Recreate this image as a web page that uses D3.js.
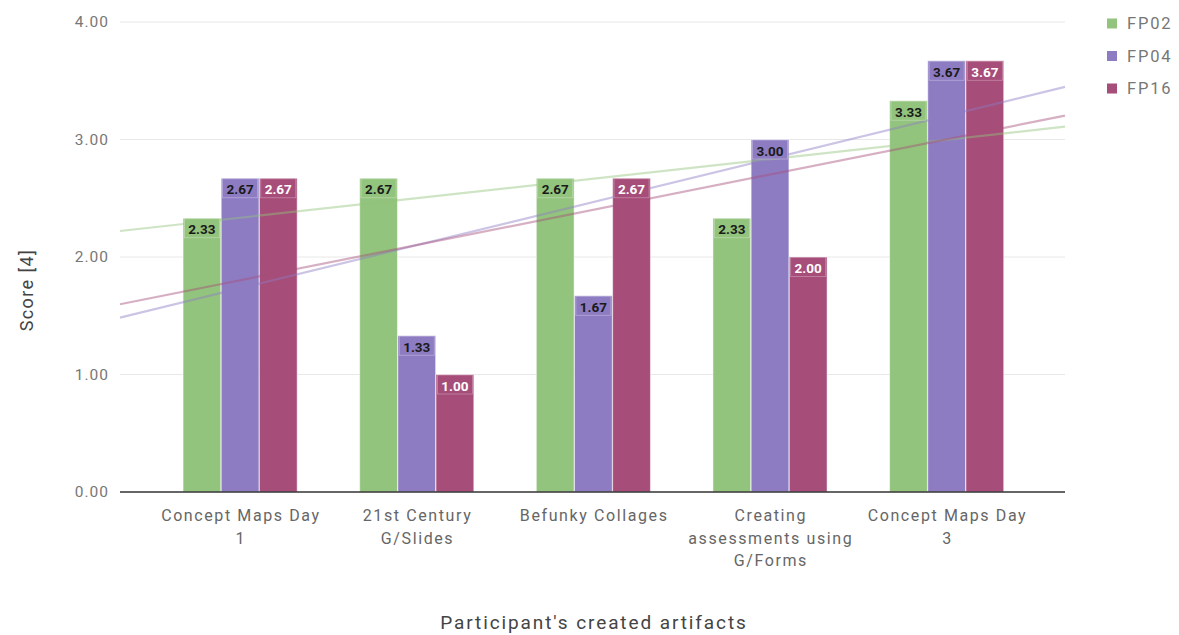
<!DOCTYPE html>
<html>
<head>
<meta charset="utf-8">
<script src="https://cdn.jsdelivr.net/npm/d3@7"></script>
<style>
  html, body { margin: 0; padding: 0; background: #fff; }
  svg { display: block; font-family: Roboto, "Noto Sans", Arial, sans-serif; }
</style>
</head>
<body>
<svg id="chart" width="1179" height="635"></svg>
<script>
// Artifact categories (wrapped lines of each label)
const categories = [
  ["Concept Maps Day", "1"],
  ["21st Century", "G/Slides"],
  ["Befunky Collages"],
  ["Creating", "assessments using", "G/Forms"],
  ["Concept Maps Day", "3"]
];
const seriesNames = ["FP02", "FP04", "FP16"];
const fp02 = [2.33, 2.67, 2.67, 2.33, 3.33];
const fp04 = [2.67, 1.33, 1.67, 3.00, 3.67];
const fp16 = [2.67, 1.00, 2.67, 2.00, 3.67];
const yTicks = [0, 1, 2, 3, 4];

const seriesValues = [fp02, fp04, fp16];
const colors = ["#93c47d", "#8e7cc3", "#a64d79"];
const labelColors = ["#1a1a1a", "#1a1a1a", "#ffffff"];

const svg = d3.select("#chart");
const plotLeft = 120, plotRight = 1065, plotTop = 22, plotBottom = 492;

// index-based horizontal scale (trendlines run across the full plot width)
const x = d3.scaleLinear().domain([-0.68, 4.67]).range([plotLeft, plotRight]);
const y = d3.scaleLinear().domain([0, 4]).range([plotBottom, plotTop]);
const inner = d3.scaleBand().domain(seriesNames).range([-0.323, 0.323]).paddingInner(0.01);

// gridlines
svg.append("g").selectAll("line").data(yTicks.filter(t => t > 0)).join("line")
  .attr("x1", plotLeft).attr("x2", plotRight)
  .attr("y1", d => y(d)).attr("y2", d => y(d))
  .attr("stroke", "#e8e8e8").attr("stroke-width", 1);

// y tick labels
svg.append("g").selectAll("text").data(yTicks).join("text")
  .attr("x", 109).attr("y", d => y(d)).attr("dy", "0.35em")
  .attr("text-anchor", "end").attr("font-size", 15.5).attr("fill", "#777")
  .attr("letter-spacing", 1)
  .text(d => d.toFixed(2));

// y axis title
svg.append("text")
  .attr("transform", `translate(33,290) rotate(-90)`)
  .attr("text-anchor", "middle").attr("font-size", 18).attr("fill", "#444")
  .attr("letter-spacing", 1.4)
  .text("Score [4]");

// bars
const barData = [];
seriesValues.forEach((vals, s) => vals.forEach((v, i) => barData.push({ s, i, v })));

function barX0(d) { return x(d.i + inner(seriesNames[d.s])); }
function barX1(d) { return x(d.i + inner(seriesNames[d.s]) + inner.bandwidth()); }

svg.append("g").selectAll("rect").data(barData).join("rect")
  .attr("x", d => barX0(d)).attr("width", d => barX1(d) - barX0(d))
  .attr("y", d => y(d.v)).attr("height", d => y(0) - y(d.v))
  .attr("fill", d => colors[d.s])
  .attr("stroke", "#ffffff").attr("stroke-opacity", 0.5).attr("stroke-width", 1);

// zero baseline
svg.append("line").attr("x1", plotLeft).attr("x2", plotRight)
  .attr("y1", y(0)).attr("y2", y(0)).attr("stroke", "#333").attr("stroke-width", 1.3);

// linear trendlines (least squares over category index)
seriesValues.forEach((vals, s) => {
  const mx = d3.mean(vals, (v, i) => i);
  const my = d3.mean(vals);
  const num = d3.sum(vals, (v, i) => (i - mx) * (v - my));
  const den = d3.sum(vals, (v, i) => (i - mx) * (i - mx));
  const slope = num / den, icpt = my - slope * mx;
  const [d0, d1] = x.domain();
  svg.append("line")
    .attr("x1", x(d0)).attr("y1", y(icpt + slope * d0))
    .attr("x2", x(d1)).attr("y2", y(icpt + slope * d1))
    .attr("stroke", colors[s]).attr("stroke-opacity", 0.45).attr("stroke-width", 2.2);
});

// value annotations at the top inside each bar
const lab = svg.append("g").selectAll("g").data(barData).join("g");
lab.append("rect")
  .attr("x", d => (barX0(d) + barX1(d)) / 2 - 17.5).attr("width", 35)
  .attr("y", d => y(d.v) + 0.5).attr("height", 19)
  .attr("fill", d => colors[d.s])
  .attr("stroke", "#fff").attr("stroke-opacity", 0.35).attr("stroke-width", 0.8);
lab.append("text")
  .attr("x", d => (barX0(d) + barX1(d)) / 2).attr("y", d => y(d.v) + 16)
  .attr("text-anchor", "middle").attr("font-size", 13.5).attr("font-weight", "bold")
  .attr("fill", d => labelColors[d.s])
  .text(d => d.v.toFixed(2));

// category labels
const cat = svg.append("g").selectAll("text").data(categories).join("text")
  .attr("x", (d, i) => x(i)).attr("y", 521)
  .attr("text-anchor", "middle").attr("font-size", 16).attr("fill", "#666")
  .attr("letter-spacing", 1.6);
cat.selectAll("tspan").data(d => d).join("tspan")
  .attr("x", function () { return +d3.select(this.parentNode).attr("x") + 0.8; })
  .attr("dy", (d, j) => j === 0 ? 0 : 22.5)
  .text(d => d);

// x axis title
svg.append("text").attr("x", 594).attr("y", 629)
  .attr("text-anchor", "middle").attr("font-size", 19).attr("fill", "#444")
  .attr("letter-spacing", 1.9)
  .text("Participant's created artifacts");

// legend
const leg = svg.append("g").selectAll("g").data(seriesNames).join("g")
  .attr("transform", (d, i) => `translate(1107,${23.5 + i * 32.5})`);
leg.append("rect").attr("x", 0).attr("y", -5).attr("width", 10).attr("height", 10)
  .attr("fill", (d, i) => colors[i]);
leg.append("text").attr("x", 20).attr("y", 0).attr("dy", "0.35em")
  .attr("font-size", 16.5).attr("fill", "#777").attr("letter-spacing", 1.8).text(d => d);
</script>
</body>
</html>
